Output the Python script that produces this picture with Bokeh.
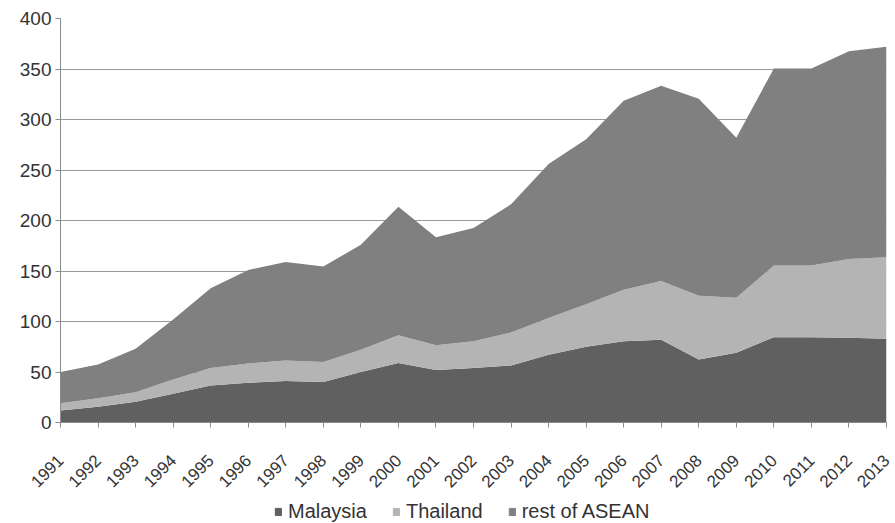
import math
from bokeh.plotting import figure
from bokeh.layouts import column
from bokeh.models import Range1d, FixedTicker, Legend, LegendItem, ColumnDataSource
from bokeh.embed import file_html
from bokeh.resources import INLINE

years = list(range(1991, 2014))
malaysia = [12, 15.5, 20.5, 28.5, 36.6, 39.3, 41, 40, 50, 59, 52, 54, 56.5, 67, 75, 80.5, 82, 62.5, 69, 84.5, 84.5, 84, 83]
thailand = [7, 8.5, 9.5, 14, 17.4, 19.2, 20.5, 20, 22, 27.5, 24.5, 26.5, 32.5, 36.5, 42, 51, 58, 63, 54.5, 71, 71, 78, 80.5]
rest_of_asean = [31, 33.5, 43, 59.5, 79, 92.5, 97.5, 94.5, 104, 127, 107, 112, 127, 152.5, 163.5, 187, 193.5, 195, 158.5, 195, 195, 205.5, 208.5]
series_names = ["Malaysia", "Thailand", "rest of ASEAN"]
colors = ["#606060", "#b4b4b4", "#808080"]
y_ticks = list(range(0, 401, 50))

source = ColumnDataSource(dict(year=years, Malaysia=malaysia, Thailand=thailand,
                               rest=rest_of_asean))

p = figure(width=895, height=500, output_backend="svg", toolbar_location=None,
           x_range=Range1d(1991, 2013), y_range=Range1d(0, 400),
           min_border_left=60, min_border_right=9, min_border_top=18,
           min_border_bottom=78)
p.outline_line_color = None
p.background_fill_color = "white"

p.varea_stack(["Malaysia", "Thailand", "rest"], x="year", source=source, color=colors)

font = "Liberation Sans"
p.xaxis.ticker = FixedTicker(ticks=years)
p.yaxis.ticker = FixedTicker(ticks=y_ticks)
p.xaxis.major_label_orientation = math.pi / 4
for ax in (p.xaxis, p.yaxis):
    ax.axis_line_color = "#8c8c8c"
    ax.major_tick_line_color = "#8c8c8c"
    ax.major_tick_out = 5
    ax.major_tick_in = 0
    ax.minor_tick_line_color = None
    ax.major_label_text_font = font
    ax.major_label_text_color = "#333333"
p.xaxis.major_label_text_font_size = "17px"
p.yaxis.major_label_text_font_size = "19px"
p.xaxis.major_label_standoff = 30
p.yaxis.major_label_standoff = 4

p.xgrid.grid_line_color = None
p.ygrid.grid_line_color = "#999999"
p.ygrid.ticker = FixedTicker(ticks=y_ticks)

# legend strip below the chart
p2 = figure(width=895, height=23, output_backend="svg", toolbar_location=None,
            x_range=Range1d(0, 1), y_range=Range1d(0, 1),
            x_axis_location=None, y_axis_location=None,
            min_border_left=0, min_border_right=0, min_border_top=0, min_border_bottom=0)
p2.grid.visible = False
p2.outline_line_color = None
items = []
for name, c in zip(series_names, colors):
    r = p2.quad(left=[5], right=[6], bottom=[5], top=[6], color=c)
    items.append(LegendItem(label=name, renderers=[r]))
legend = Legend(items=items, orientation="horizontal", location=(214, 0),
                label_text_font=font, label_text_font_size="20px", label_text_color="#333333",
                glyph_width=8, glyph_height=9, label_standoff=6, spacing=25,
                border_line_color=None, background_fill_alpha=0, padding=0, margin=0)
p2.add_layout(legend, "center")

layout = column(p, p2, spacing=0)
open("out.html", "w").write(file_html(layout, INLINE))
